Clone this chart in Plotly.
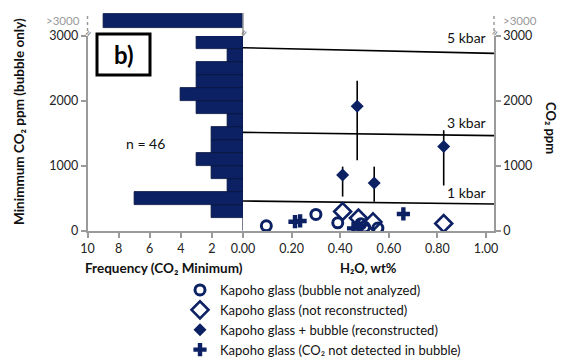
import plotly.graph_objects as go

# ---------------- data ----------------
# histogram of minimum CO2 (bubble only), 200 ppm bins, 0-3000 ppm
hist_bin_centers = [100, 300, 500, 700, 900, 1100, 1300, 1500, 1700, 1900, 2100, 2300, 2500, 2700, 2900]
hist_counts = [0, 2, 7, 1, 2, 3, 2, 2, 1, 3, 4, 3, 3, 1, 3]
over_3000_count = 9

# Kapoho glass (bubble not analyzed)
na_h2o = [0.096, 0.30, 0.39, 0.485, 0.50, 0.555]
na_co2 = [80, 255, 125, 110, 60, 45]

# Kapoho glass (not reconstructed)
nr_h2o = [0.41, 0.475, 0.535, 0.826]
nr_co2 = [300, 200, 140, 115]

# Kapoho glass + bubble (reconstructed)
rc_h2o = [0.41, 0.47, 0.54, 0.826]
rc_co2 = [860, 1920, 740, 1300]
rc_err_up = [130, 390, 250, 250]
rc_err_down = [330, 830, 290, 600]

# Kapoho glass (CO2 not detected in bubble)
nd_h2o = [0.214, 0.235, 0.455, 0.475, 0.66]
nd_co2 = [143, 155, 40, 80, 262]

# isobars
kbar_x = [0.0, 1.033]
kbar1_y = [462, 415]
kbar3_y = [1518, 1467]
kbar5_y = [2820, 2733]

# ---------------- layout helpers ----------------
W, H = 563, 358
def fx(px):
    return px / W
def fy(py):
    return 1 - py / H

NAVY = "#0c2164"
GRAY = "#9a9a9a"
FONT = "Lato, 'Open Sans', sans-serif"

fig = go.Figure()

# histogram (left panel)
fig.add_trace(go.Bar(
    y=hist_bin_centers, x=hist_counts, orientation="h", width=200,
    marker=dict(color=NAVY, line=dict(color="#06133d", width=0.8)),
    xaxis="x", yaxis="y", showlegend=False, hoverinfo="skip"))
# >3000 bar
fig.add_trace(go.Bar(
    y=[0.5], x=[over_3000_count], orientation="h", width=0.76,
    marker=dict(color=NAVY, line=dict(color="#06133d", width=0.8)),
    xaxis="x", yaxis="y3", showlegend=False, hoverinfo="skip"))

# isobars
for ys in (kbar5_y, kbar3_y, kbar1_y):
    fig.add_trace(go.Scatter(x=kbar_x, y=ys, mode="lines",
                             line=dict(color="black", width=1.6),
                             xaxis="x2", yaxis="y2", showlegend=False, hoverinfo="skip"))

# scatter series
fig.add_trace(go.Scatter(
    x=na_h2o, y=na_co2, mode="markers", name="Kapoho glass (bubble not analyzed)",
    marker=dict(symbol="circle-open", size=10, color=NAVY, line=dict(width=3, color=NAVY)),
    xaxis="x2", yaxis="y2"))
fig.add_trace(go.Scatter(
    x=nr_h2o, y=nr_co2, mode="markers", name="Kapoho glass (not reconstructed)",
    marker=dict(symbol="diamond-open", size=13, color=NAVY, line=dict(width=2.6, color=NAVY)),
    xaxis="x2", yaxis="y2"))
fig.add_trace(go.Scatter(
    x=rc_h2o, y=rc_co2, mode="markers", name="Kapoho glass + bubble (reconstructed)",
    marker=dict(symbol="diamond", size=10, color=NAVY),
    error_y=dict(type="data", symmetric=False, array=rc_err_up, arrayminus=rc_err_down,
                 color="black", thickness=1.6, width=0),
    xaxis="x2", yaxis="y2"))
fig.add_trace(go.Scatter(
    x=nd_h2o, y=nd_co2, mode="markers", name="Kapoho glass (CO₂ not detected in bubble)",
    marker=dict(symbol="cross", size=11, color=NAVY),
    xaxis="x2", yaxis="y2"))

axis_common = dict(showgrid=False, zeroline=False, showline=True, linecolor=GRAY, linewidth=1.5,
                   ticks="outside", tickcolor=GRAY, ticklen=5, tickwidth=1.5, automargin=False,
                   tickfont=dict(size=12.5, color="#222", family=FONT))

fig.update_layout(
    width=W, height=H, margin=dict(l=0, r=0, t=0, b=0, autoexpand=False),
    paper_bgcolor="white", plot_bgcolor="white",
    font=dict(family=FONT, size=12, color="#111"),
    bargap=0,
    xaxis=dict(domain=[fx(87.5), fx(243)], range=[10, 0], anchor="y",
               tickvals=[10, 8, 6, 4, 2, 0], ticktext=["10", "8", "6", "4", "2", ""],
               **axis_common),
    yaxis=dict(domain=[fy(231), fy(36)], range=[0, 3000], anchor="x",
               tickvals=[0, 1000, 2000, 3000], **axis_common),
    xaxis2=dict(domain=[fx(243), fx(494)], range=[0, 1.033], anchor="y2",
                tickvals=[0, 0.2, 0.4, 0.6, 0.8, 1.0], tickformat=".2f",
                **axis_common),
    yaxis2=dict(domain=[fy(231), fy(36)], range=[0, 3000], anchor="x2", side="right",
                tickvals=[0, 1000, 2000, 3000], **axis_common),
    yaxis5=dict(domain=[fy(231), fy(36)], range=[0, 3000], anchor="x2", side="left",
                overlaying="y2", showgrid=False, zeroline=False, showline=True,
                linecolor=GRAY, linewidth=1.5, ticks="inside", tickcolor=GRAY,
                ticklen=5, tickwidth=1.5, tickvals=[1000, 2000], showticklabels=False),
    yaxis3=dict(domain=[fy(30), fy(12)], range=[0, 1], anchor="x", showgrid=False,
                zeroline=False, showline=False, showticklabels=False, ticks=""),
    legend=dict(x=fx(180), y=fy(275), xanchor="left", yanchor="top",
                font=dict(size=13, family=FONT, color="#111"), tracegroupgap=0,
                bgcolor="rgba(0,0,0,0)"),
)

shapes = []
# broken-axis dotted segments
for px in (87.5, 494):
    shapes.append(dict(type="line", xref="paper", yref="paper", x0=fx(px), x1=fx(px),
                       y0=fy(31), y1=fy(13), line=dict(color=GRAY, width=1.5, dash="dot")))
shapes.append(dict(type="line", xref="paper", yref="paper", x0=fx(243), x1=fx(243),
                   y0=fy(36), y1=fy(13), line=dict(color=GRAY, width=1.5)))
# b) box
shapes.append(dict(type="rect", xref="paper", yref="paper", x0=fx(97), x1=fx(150),
                   y0=fy(75), y1=fy(34), line=dict(color="black", width=3),
                   fillcolor="white"))
fig.update_layout(shapes=shapes)


def note(text, px, py, size=12, color="#111", angle=0, xa="center", ya="middle"):
    return dict(text=text, x=fx(px), y=fy(py), xref="paper", yref="paper",
                xanchor=xa, yanchor=ya, showarrow=False, textangle=angle,
                font=dict(size=size, color=color, family=FONT))


ann = []
ann.append(note("<b>b)</b>", 123.5, 54.5, size=24, color="black"))
ann.append(note("n = 46", 145, 143, size=14))
for txt, yv in (("5 kbar", 2975), ("3 kbar", 1665), ("1 kbar", 590)):
    ann.append(dict(text=txt, x=1.01, y=yv, xref="x2", yref="y2", xanchor="right",
                    yanchor="middle", showarrow=False,
                    font=dict(size=14, color="#111", family=FONT)))
ann.append(note(">3000", 82, 20, size=11.5, color=GRAY, xa="right"))
ann.append(note(">3000", 501, 20, size=11.5, color=GRAY, xa="left"))
for px in (87.5, 243, 494):
    ann.append(note("≈", px, 33, size=12, color="#777", angle=-60))
ann.append(note("<b>Minimmum CO₂ ppm (bubble only)</b>", 19, 122, size=13.5, angle=-90))
ann.append(note("<b>CO₂ ppm</b>", 551, 128, size=13, angle=90))
ann.append(note("<b>Frequency (CO₂ Minimum)</b>", 164, 268, size=13.5))
ann.append(note("<b>H₂O, wt%</b>", 368, 268, size=13))
fig.update_layout(annotations=ann)

fig.write_html("out.html")
